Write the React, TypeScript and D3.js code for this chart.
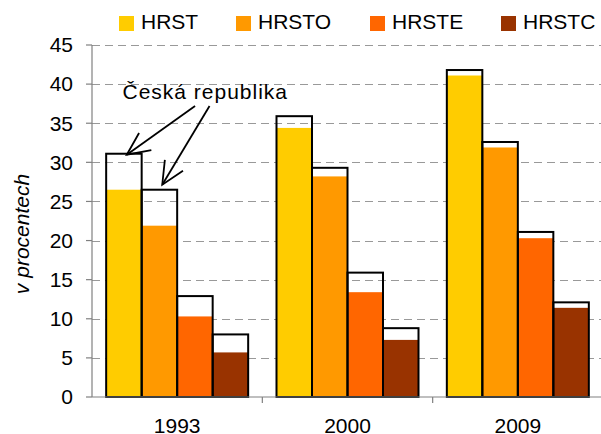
import React from "react";
import * as d3 from "d3";

const years = ["1993", "2000", "2009"];
const series = ["HRST", "HRSTO", "HRSTE", "HRSTC"];
const colors = ["#FFCC00", "#FF9900", "#FF6600", "#993300"];

// outlined boxes (Česká republika)
const czHRST = [31.1, 35.9, 41.8];
const czHRSTO = [26.5, 29.3, 32.6];
const czHRSTE = [12.9, 15.9, 21.1];
const czHRSTC = [8.0, 8.8, 12.1];

// coloured bars
const barHRST = [26.5, 34.4, 41.1];
const barHRSTO = [21.9, 28.2, 31.9];
const barHRSTE = [10.3, 13.4, 20.3];
const barHRSTC = [5.7, 7.3, 11.4];

const yTicks = [0, 5, 10, 15, 20, 25, 30, 35, 40, 45];

const W = 601;
const H = 434;
const FONT = "'Liberation Sans', Arial, sans-serif";

export default function App() {
  const left = 92, right = 603, top = 45, bottom = 397;

  const x0 = d3.scaleBand<string>().domain(years).range([left, right]);
  const bw = x0.bandwidth();
  const pad = (bw - 142) / 2;
  const x1 = d3.scaleBand<string>().domain(series).range([pad, bw - pad]);
  const w = x1.bandwidth();
  const y = d3.scaleLinear().domain([0, 45]).range([bottom, top]);

  const czRows = [czHRST, czHRSTO, czHRSTE, czHRSTC];
  const barRows = [barHRST, barHRSTO, barHRSTE, barHRSTC];

  const bars = years.flatMap((yr, i) =>
    series.map((s, j) => ({
      x: (x0(yr) as number) + (x1(s) as number),
      fill: colors[j],
      v: barRows[j][i],
      cz: czRows[j][i],
      key: yr + s,
    }))
  );

  // annotation
  const g0 = x0("1993") as number;
  const tx = g0 + bw * 0.665;
  const ty = y(38.1);
  const arrows = [
    { sx: g0 + bw * 0.605, sy: y(37.2), tx: g0 + (x1("HRST") as number) + w * 0.58, ty: y(czHRST[0]) + 1 },
    { sx: g0 + bw * 0.69, sy: y(37.2), tx: g0 + (x1("HRSTO") as number) + w * 0.58, ty: y(czHRSTO[0]) - 5 },
  ];
  const head = (a: { sx: number; sy: number; tx: number; ty: number }) => {
    const ang = Math.atan2(a.sy - a.ty, a.sx - a.tx);
    const L = 25, sp = (25 * Math.PI) / 180;
    return [ang - sp, ang + sp].map((t) => [a.tx + L * Math.cos(t), a.ty + L * Math.sin(t)]);
  };

  const legendX = [119, 236, 370, 501];

  return (
    <svg width={W} height={H} style={{ position: "absolute", left: 0, top: 0, background: "#fff" }} fontFamily={FONT}>
      {/* gridlines */}
      {yTicks.slice(1).map((t) => (
        <line key={t} x1={left} x2={W} y1={Math.round(y(t)) + 0.5} y2={Math.round(y(t)) + 0.5}
          stroke="#999" strokeWidth={1} strokeDasharray="8,5" />
      ))}

      {/* coloured bars */}
      {bars.map((b) => (
        <rect key={"b" + b.key} x={b.x} y={y(b.v)} width={w} height={bottom - y(b.v)} fill={b.fill} />
      ))}
      {/* outlined boxes */}
      {bars.map((b) => (
        <rect key={"c" + b.key} x={b.x} y={y(b.cz)} width={w} height={bottom - y(b.cz)}
          fill="none" stroke="#000" strokeWidth={2} />
      ))}

      {/* axes */}
      <line x1={left} x2={left} y1={top} y2={bottom} stroke="#808080" strokeWidth={1.2} />
      <line x1={left} x2={W} y1={bottom} y2={bottom} stroke="#808080" strokeWidth={1.2} />
      {yTicks.map((t) => (
        <g key={t}>
          <line x1={left - 6} x2={left} y1={y(t)} y2={y(t)} stroke="#808080" strokeWidth={1.2} />
          <text x={73} y={y(t)} dy="0.35em" textAnchor="end" fontSize={21} fill="#000">{t}</text>
        </g>
      ))}
      {years.slice(1).map((yr) => (
        <line key={yr} x1={x0(yr)} x2={x0(yr)} y1={bottom} y2={bottom + 6} stroke="#808080" strokeWidth={1.2} />
      ))}
      {years.map((yr) => (
        <text key={yr} x={(x0(yr) as number) + bw / 2} y={433} textAnchor="middle" fontSize={21} fill="#000">{yr}</text>
      ))}

      <text transform={`translate(29,234) rotate(-90)`} textAnchor="middle" fontSize={21} fontStyle="italic" fill="#000">
        v procentech
      </text>

      {/* annotation */}
      <text x={tx} y={ty} textAnchor="middle" fontSize={21} letterSpacing={1} fill="#000">Česká republika</text>
      {arrows.map((a, i) => {
        const h = head(a);
        return (
          <g key={i} stroke="#000" strokeWidth={1.8} fill="none">
            <line x1={a.sx} y1={a.sy} x2={a.tx} y2={a.ty} />
            <polyline points={`${h[0][0]},${h[0][1]} ${a.tx},${a.ty} ${h[1][0]},${h[1][1]}`} />
          </g>
        );
      })}

      {/* legend */}
      {series.map((s, i) => (
        <g key={s}>
          <rect x={legendX[i]} y={16} width={15} height={15} fill={colors[i]} />
          <text x={legendX[i] + 22} y={29} fontSize={21} fill="#000">{s}</text>
        </g>
      ))}
    </svg>
  );
}
